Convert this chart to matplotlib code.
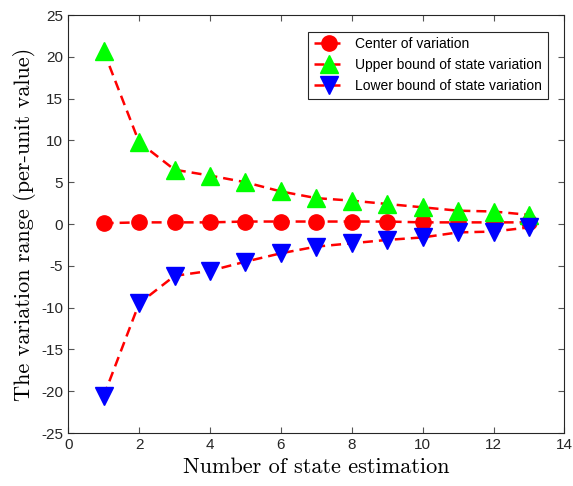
import numpy as np
import matplotlib
matplotlib.use("Agg")
from matplotlib import pyplot as plt

plt.rcParams['font.family'] = ['Liberation Sans', 'DejaVu Sans']
plt.rcParams['axes.unicode_minus'] = False

steps = np.arange(1, 14)
center = [0.1, 0.2, 0.2, 0.2, 0.3, 0.3, 0.3, 0.3, 0.3, 0.2, 0.2, 0.2, 0.2]
upper = [20.7, 9.8, 6.5, 5.8, 5.0, 3.9, 3.1, 2.8, 2.4, 2.0, 1.6, 1.5, 1.1]
lower = [-20.6, -9.5, -6.2, -5.6, -4.5, -3.5, -2.7, -2.3, -1.9, -1.6, -1.0, -0.9, -0.4]

fig = plt.figure(figsize=(5.73, 4.86), dpi=100)
ax = fig.add_axes([0.119, 0.109, 0.866, 0.860])

dash = (4, 2.4)
ax.plot(steps, center, '--o', color='red', mfc='red', mec='red', lw=1.8, ms=11,
        dashes=dash, label='Center of variation')
ax.plot(steps, upper, '--^', color='red', mfc='#00ff00', mec='#00ff00', lw=1.8, ms=13,
        dashes=dash, label='Upper bound of state variation')
ax.plot(steps, lower, '--v', color='red', mfc='blue', mec='blue', lw=1.8, ms=13,
        dashes=dash, label='Lower bound of state variation')

ax.set_xlim(0, 14)
ax.set_ylim(-25, 25)
ax.set_xticks(np.arange(0, 15, 2))
ax.set_yticks(np.arange(-25, 26, 5))
ax.tick_params(direction='in', length=4, color='#555555', labelsize=11, labelcolor='#262626')
ax.tick_params(top=True, right=True)
for s in ax.spines.values():
    s.set_color('#262626')

ax.set_xlabel('Number of state estimation', fontsize=16, family='cmr10')
ax.set_ylabel('The variation range (per-unit value)', fontsize=16, family='cmr10')

leg = ax.legend(loc='upper right', fontsize=10, fancybox=False, edgecolor='#262626',
                framealpha=1, borderaxespad=1.2, handlelength=2.2)
leg.get_frame().set_linewidth(0.8)

fig.savefig('out.png', dpi=100)
